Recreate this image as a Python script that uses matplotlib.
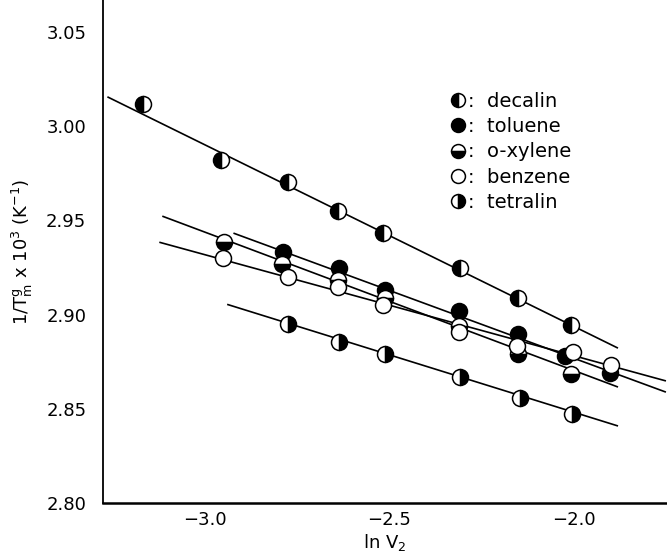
import matplotlib
matplotlib.use('Agg')
import matplotlib.pyplot as plt
from matplotlib.lines import Line2D

# data: ln V2 vs 1/Tm^g x 10^3 (K^-1)
decalin_x = [-3.168, -2.957, -2.775, -2.639, -2.517, -2.308, -2.151, -2.007]
decalin_y = [3.0117, 2.9819, 2.9702, 2.9548, 2.9431, 2.9250, 2.9090, 2.8947]
toluene_x = [-2.788, -2.636, -2.512, -2.311, -2.152, -2.023, -1.901]
toluene_y = [2.9330, 2.9245, 2.9133, 2.9021, 2.8899, 2.8782, 2.8691]
oxylene_x = [-2.948, -2.791, -2.639, -2.512, -2.311, -2.151, -2.007]
oxylene_y = [2.9388, 2.9271, 2.9181, 2.9090, 2.8941, 2.8793, 2.8686]
benzene_x = [-2.951, -2.775, -2.639, -2.517, -2.311, -2.153, -2.001, -1.898]
benzene_y = [2.9303, 2.9202, 2.9144, 2.9053, 2.8910, 2.8835, 2.8803, 2.8734]
tetralin_x = [-2.775, -2.636, -2.512, -2.308, -2.145, -2.004]
tetralin_y = [2.8952, 2.8856, 2.8793, 2.8670, 2.8559, 2.8473]

# drawn straight lines (end points)
decalin_line = ([-3.263, -1.882], [3.0154, 2.8824])
toluene_line = ([-2.921, -1.752], [2.9431, 2.8590])
oxylene_line = ([-3.114, -1.882], [2.9521, 2.8617])
benzene_line = ([-3.122, -1.752], [2.9383, 2.8649])
tetralin_line = ([-2.938, -1.882], [2.9053, 2.8410])

names = ['decalin', 'toluene', 'o-xylene', 'benzene', 'tetralin']
fills = ['left', 'full', 'bottom', 'full', 'right']
faces = ['black', 'black', 'black', 'white', 'black']

series = [(decalin_x, decalin_y, decalin_line),
          (toluene_x, toluene_y, toluene_line),
          (oxylene_x, oxylene_y, oxylene_line),
          (benzene_x, benzene_y, benzene_line),
          (tetralin_x, tetralin_y, tetralin_line)]

fig = plt.figure(figsize=(6.67, 5.54), dpi=100)
ax = fig.add_axes([0.1544, 0.0921, 0.8456, 0.9079])

for (xs, ys, ln) in series:
    ax.plot(ln[0], ln[1], color='black', lw=1.2, zorder=2)

handles = []
for (xs, ys, ln), fs, fc in zip(series, fills, faces):
    ax.plot(xs, ys, ls='none', marker='o', ms=11.5, fillstyle=fs,
            markerfacecolor=fc, markerfacecoloralt='white',
            markeredgecolor='black', markeredgewidth=1.1, zorder=3)
    handles.append(Line2D([], [], ls='none', marker='o', ms=10, fillstyle=fs,
                          markerfacecolor=fc, markerfacecoloralt='white',
                          markeredgecolor='black', markeredgewidth=1.1))

ax.legend(handles, [':  ' + n for n in names], loc='upper left',
          bbox_to_anchor=(0.585, 0.852), frameon=False, handlelength=0.8,
          handletextpad=0.1, labelspacing=0.32, fontsize=14)

ax.set_xlim(-3.277, -1.747)
ax.set_ylim(2.80, 3.067)
ax.set_xticks([-3.0, -2.5, -2.0])
ax.set_xticklabels(['−3.0', '−2.5', '−2.0'])
ax.set_yticks([2.80, 2.85, 2.90, 2.95, 3.00, 3.05])
ax.set_yticklabels(['2.80', '2.85', '2.90', '2.95', '3.00', '3.05'])
ax.tick_params(length=0, labelsize=13)
ax.tick_params(axis='x', pad=6)
ax.tick_params(axis='y', pad=12)
ax.spines['top'].set_visible(False)
ax.spines['right'].set_visible(False)
ax.spines['left'].set_linewidth(1.3)
ax.spines['bottom'].set_linewidth(1.8)

ax.set_xlabel(r'ln V$_2$', fontsize=13, labelpad=2)
ax.set_ylabel(r'1/T$_{\rm m}^{\rm g}$ x 10$^3$ (K$^{-1}$)', fontsize=13, labelpad=8)

fig.savefig('out.png', dpi=100)
